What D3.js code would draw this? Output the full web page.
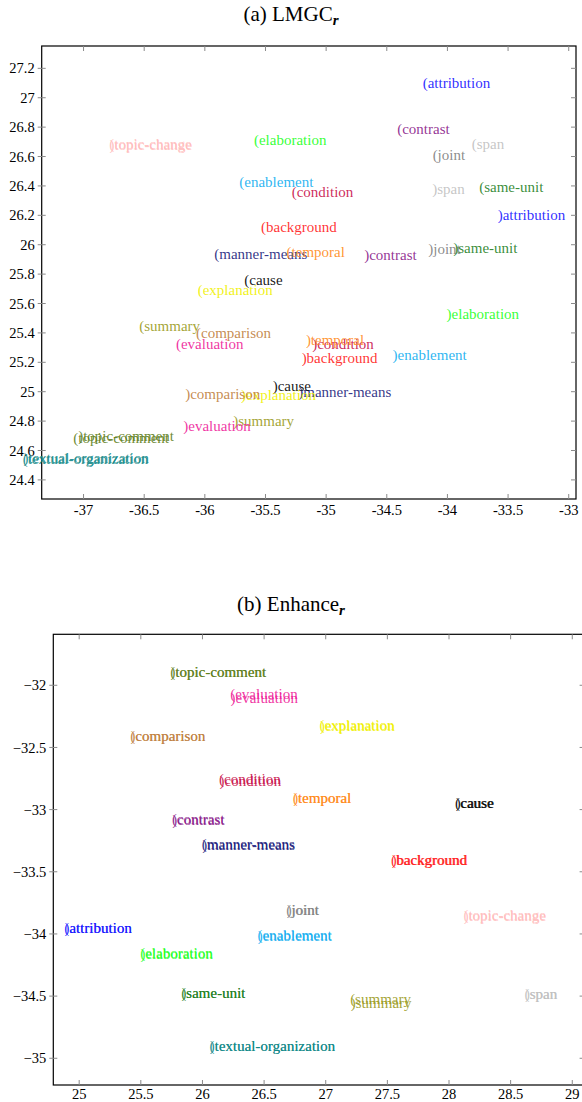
<!DOCTYPE html>
<html><head><meta charset="utf-8">
<script src="https://cdn.jsdelivr.net/npm/d3@7"></script>
<style>
body{margin:0;background:#fff;}
svg{display:block;}
</style></head>
<body>
<svg id="c" width="582" height="1102"></svg>
<script>
// Relation colours
const relations = ["attribution","contrast","span","joint","same-unit","elaboration","topic-change","enablement","condition","background","manner-means","temporal","cause","explanation","summary","comparison","evaluation","topic-comment","textual-organization"];
const relColors = ["#1414ff","#8a1a8a","#bfbfbf","#808080","#1f7f1f","#22ff22","#ffbcbc","#12aef0","#c8104a","#ff1a1a","#1c1c7c","#ff8a1a","#000000","#f0f000","#9a9a20","#c08040","#ee1a98","#5e7e1a","#108888"];

// (a) LMGC_r label anchors
const lmgcText = ["(attribution",")attribution","(contrast",")contrast","(span",")span","(joint",")joint","(same-unit",")same-unit","(elaboration",")elaboration","(topic-change",")topic-change","(enablement",")enablement","(condition",")condition","(background",")background","(manner-means",")manner-means","(temporal",")temporal","(cause",")cause","(explanation",")explanation","(summary",")summary","(comparison",")comparison","(evaluation",")evaluation","(topic-comment",")topic-comment","(textual-organization",")textual-organization"];
const lmgcX = [-34.204,-33.586,-34.414,-34.686,-33.80,-34.125,-34.122,-34.158,-33.738,-33.952,-35.595,-34.007,-36.788,-36.785,-35.716,-34.452,-35.284,-35.115,-35.537,-35.202,-35.922,-35.23,-35.326,-35.167,-35.675,-35.441,-36.059,-35.702,-36.541,-35.766,-36.073,-36.162,-36.238,-36.178,-37.085,-37.044,-37.502,-37.495];
const lmgcY = [27.10,26.203,26.786,25.93,26.688,26.378,26.609,25.971,26.391,25.976,26.713,25.527,26.684,26.681,26.423,25.246,26.361,25.325,26.123,25.228,25.935,25.0,25.953,25.352,25.761,25.039,25.693,24.978,25.448,24.803,25.398,24.985,25.323,24.763,24.684,24.701,24.541,24.547];
const lmgcXTicks = [-37,-36.5,-36,-35.5,-35,-34.5,-34,-33.5,-33];
const lmgcYTicks = [24.4,24.6,24.8,25,25.2,25.4,25.6,25.8,26,26.2,26.4,26.6,26.8,27,27.2];

// (b) Enhance_r label anchors
const enhText = ["(topic-comment",")topic-comment","(evaluation",")evaluation","(comparison",")comparison","(explanation",")explanation","(condition",")condition","(temporal",")temporal","(cause",")cause","(contrast",")contrast","(manner-means",")manner-means","(background",")background","(joint",")joint","(topic-change",")topic-change","(attribution",")attribution","(enablement",")enablement","(elaboration",")elaboration","(same-unit",")same-unit","(summary",")summary","(span",")span","(textual-organization",")textual-organization"];
const enhX = [25.738,25.741,26.225,26.228,25.414,25.417,26.949,26.953,26.135,26.139,26.733,26.736,28.049,28.055,25.752,25.755,25.995,25.998,27.53,27.535,26.679,26.684,28.117,28.119,24.878,24.881,26.446,26.449,25.495,25.497,25.827,25.829,27.198,27.203,28.612,28.616,26.057,26.059];
const enhY = [-31.893,-31.897,-32.072,-32.100,-32.406,-32.410,-32.322,-32.328,-32.756,-32.772,-32.907,-32.911,-32.947,-32.951,-33.076,-33.080,-33.280,-33.288,-33.402,-33.408,-33.804,-33.810,-33.851,-33.855,-33.952,-33.956,-34.009,-34.013,-34.154,-34.158,-34.475,-34.479,-34.522,-34.556,-34.481,-34.485,-34.899,-34.903];
const enhXTicks = [25,25.5,26,26.5,27,27.5,28,28.5,29];
const enhYTicks = [-35,-34.5,-34,-33.5,-33,-32.5,-32];

const FONT = "'Liberation Serif','Times New Roman','DejaVu Serif',serif";
const colorOf = t => relColors[relations.indexOf(t.slice(1))];
const svg = d3.select("#c");

function drawPanel(o){
  const g = svg.append("g");
  const x = d3.scaleLinear().domain(o.xDom).range(o.xRange);
  const y = d3.scaleLinear().domain(o.yDom).range(o.yRange);
  const [x0,x1] = o.xRange, [yb,yt] = o.yRange;
  // title
  const t = g.append("text").attr("x",291).attr("y",o.titleY).attr("text-anchor","middle")
    .attr("font-family",FONT).attr("font-size",21).attr("fill","#000");
  t.append("tspan").text(o.title);
  t.append("tspan").text("r").attr("font-weight","bold").attr("font-style","italic")
    .attr("font-size",15).attr("dy",4);
  // frame
  g.append("rect").attr("x",x0).attr("y",yt).attr("width",x1-x0).attr("height",yb-yt)
    .attr("fill","none").attr("stroke","#000").attr("stroke-width",1.2);
  // ticks
  const tc = "#8a8a8a";
  o.xTicks.forEach(v=>{
    const px = x(v);
    g.append("line").attr("x1",px).attr("x2",px).attr("y1",yb).attr("y2",yb-5).attr("stroke",tc);
    g.append("line").attr("x1",px).attr("x2",px).attr("y1",yt).attr("y2",yt+5).attr("stroke",tc);
    g.append("text").attr("x",px).attr("y",yb+o.xLabOff).attr("text-anchor","middle")
      .attr("font-family",FONT).attr("font-size",14.5).attr("fill","#000")
      .text(o.xFmt(v));
  });
  o.yTicks.forEach(v=>{
    const py = y(v);
    g.append("line").attr("x1",x0-4).attr("x2",x0+4).attr("y1",py).attr("y2",py).attr("stroke",tc);
    g.append("line").attr("x1",x1).attr("x2",x1-5).attr("y1",py).attr("y2",py).attr("stroke",tc);
    g.append("text").attr("x",x0-o.yLabGap).attr("y",py).attr("dy","0.35em").attr("text-anchor","end")
      .attr("font-family",FONT).attr("font-size",14.5).attr("fill","#000")
      .text(o.yFmt(v));
  });
  // labels
  g.append("g").selectAll("text").data(o.text.map((s,i)=>({s,x:o.xs[i],y:o.ys[i]})))
    .join("text")
    .attr("x",d=>x(d.x)).attr("y",d=>y(d.y)).attr("dy","0.33em")
    .attr("font-family",FONT).attr("font-size",15)
    .attr("fill",d=>colorOf(d.s)).attr("fill-opacity",0.9)
    .text(d=>d.s);
}

drawPanel({title:"(a) LMGC", titleY:21,
  xDom:[-37.345,-32.94], xRange:[41.7,576], yDom:[24.27,27.352], yRange:[499,46],
  xTicks:lmgcXTicks, yTicks:lmgcYTicks, yLabGap:7, xLabOff:16,
  xFmt:v=>String(v), yFmt:v=>String(v),
  text:lmgcText, xs:lmgcX, ys:lmgcY});

drawPanel({title:"(b) Enhance", titleY:611,
  xDom:[24.79,29.1], xRange:[53.3,584.6], yDom:[-35.215,-31.59], yRange:[1085,634.3],
  xTicks:enhXTicks, yTicks:enhYTicks, yLabGap:7, xLabOff:14,
  xFmt:v=>String(v), yFmt:v=>"\u2212"+String(-v),
  text:enhText, xs:enhX, ys:enhY});
</script>
</body></html>
